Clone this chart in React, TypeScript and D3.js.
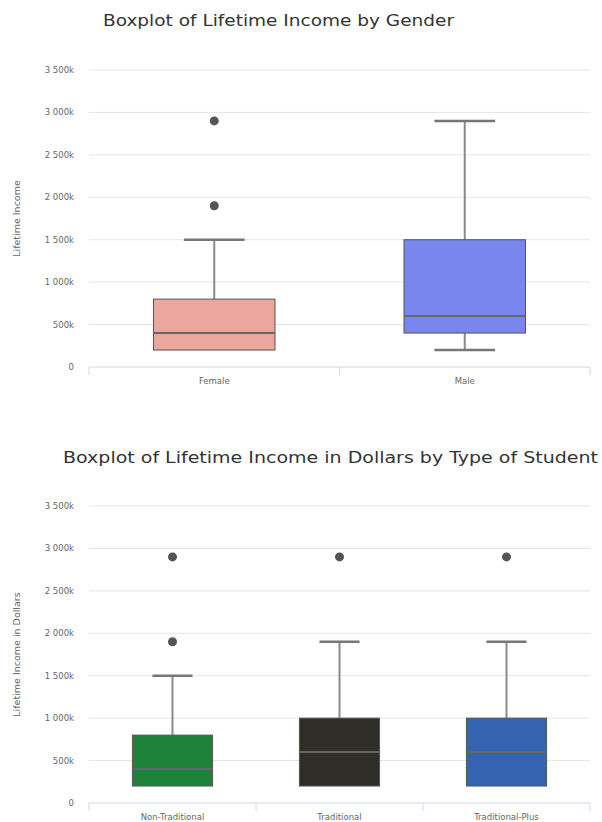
import React from "react";
import * as d3 from "d3";

const genderCats = ["Female", "Male"];
const genderColors = ["#eba79d", "#7886ee"];
const genderLow = [200, 200];
const genderQ1 = [200, 400];
const genderMed = [400, 600];
const genderQ3 = [800, 1500];
const genderHigh = [1500, 2900];
const genderOutliers = [[1900, 2900], []];

const typeCats = ["Non-Traditional", "Traditional", "Traditional-Plus"];
const typeColors = ["#1f823a", "#2e2d27", "#3565b1"];
const typeLow = [200, 200, 200];
const typeQ1 = [200, 200, 200];
const typeMed = [400, 600, 600];
const typeQ3 = [800, 1000, 1000];
const typeHigh = [1500, 1900, 1900];
const typeOutliers = [[1900, 2900], [2900], [2900]];

const yTicks = [0, 500, 1000, 1500, 2000, 2500, 3000, 3500];

const fmt = (v: number) => {
  if (v === 0) return "0";
  const s = String(v);
  return s.length > 3 ? s.slice(0, s.length - 3) + " " + s.slice(-3) + "k" : s + "k";
};

type PanelProps = {
  title: string;
  yLabel: string;
  cats: string[];
  colors: string[];
  low: number[];
  q1: number[];
  med: number[];
  q3: number[];
  high: number[];
  outliers: number[][];
  top: number;
  titleX: number;
  titleY: number;
  titleLen: number;
  boxFrac: number;
};

function Panel(p: PanelProps) {
  const x0 = 89, x1 = 590;
  const yTop = p.top, yBottom = p.top + 297;
  const x = d3.scaleBand<string>().domain(p.cats).range([x0, x1]);
  const y = d3.scaleLinear().domain([0, 3500]).range([yBottom, yTop]);
  const bw = x.bandwidth() * p.boxFrac;
  const font = "DejaVu Sans, sans-serif";
  return (
    <g>
      <text
        x={p.titleX}
        y={p.titleY}
        textAnchor="start"
        fontFamily={font}
        fontSize={16.5}
        fill="#333"
        textLength={p.titleLen}
        lengthAdjust="spacingAndGlyphs"
      >
        {p.title}
      </text>
      {yTicks.map((t) => (
        <g key={t}>
          {t > 0 && <line x1={x0} x2={x1} y1={y(t)} y2={y(t)} stroke="#e6e6e6" strokeWidth={1} />}
          <text x={74} y={y(t) + 3} textAnchor="end" fontFamily={font} fontSize={8.5} fill="#666">
            {fmt(t)}
          </text>
        </g>
      ))}
      <text
        transform={`translate(20,${(yTop + yBottom) / 2}) rotate(-90)`}
        textAnchor="middle"
        fontFamily={font}
        fontSize={9.5}
        fill="#666"
      >
        {p.yLabel}
      </text>
      <line x1={x0} x2={x1} y1={yBottom} y2={yBottom} stroke="#ccd6eb" strokeWidth={1} />
      {[...p.cats.map((c) => x(c) as number), x1].map((tx, i) => (
        <line key={i} x1={tx} x2={tx} y1={yBottom} y2={yBottom + 8} stroke="#ccd6eb" strokeWidth={1} />
      ))}
      {p.cats.map((c, i) => {
        const cx = (x(c) as number) + x.bandwidth() / 2;
        return (
          <g key={c}>
            <text x={cx} y={yBottom + 17} textAnchor="middle" fontFamily={font} fontSize={8.5} fill="#666">
              {c}
            </text>
            <line x1={cx} x2={cx} y1={y(p.high[i])} y2={y(p.q3[i])} stroke="#8a8a8a" strokeWidth={2} />
            <line x1={cx} x2={cx} y1={y(p.q1[i])} y2={y(p.low[i])} stroke="#8a8a8a" strokeWidth={2} />
            <line x1={cx - bw / 4} x2={cx + bw / 4} y1={y(p.high[i])} y2={y(p.high[i])} stroke="#777" strokeWidth={2.5} />
            {p.low[i] < p.q1[i] && (
              <line x1={cx - bw / 4} x2={cx + bw / 4} y1={y(p.low[i])} y2={y(p.low[i])} stroke="#777" strokeWidth={2.5} />
            )}
            <rect
              x={cx - bw / 2}
              y={y(p.q3[i])}
              width={bw}
              height={y(p.q1[i]) - y(p.q3[i])}
              fill={p.colors[i]}
              stroke="#555"
              strokeWidth={1}
            />
            <line x1={cx - bw / 2} x2={cx + bw / 2} y1={y(p.med[i])} y2={y(p.med[i])} stroke="#666" strokeWidth={2} />
            {p.outliers[i].map((o, j) => (
              <circle key={j} cx={cx} cy={y(o)} r={4.5} fill="#555" />
            ))}
          </g>
        );
      })}
    </g>
  );
}

export default function App() {
  return (
    <svg width={602} height={822} style={{ position: "absolute", left: 0, top: 0, background: "#fff" }}>
      <rect width={602} height={822} fill="#fff" />
      <Panel
        title="Boxplot of Lifetime Income by Gender"
        yLabel="Lifetime Income"
        cats={genderCats}
        colors={genderColors}
        low={genderLow}
        q1={genderQ1}
        med={genderMed}
        q3={genderQ3}
        high={genderHigh}
        outliers={genderOutliers}
        top={70}
        titleX={103}
        titleY={26}
        titleLen={351}
        boxFrac={0.485}
      />
      <Panel
        title="Boxplot of Lifetime Income in Dollars by Type of Student"
        yLabel="Lifetime Income in Dollars"
        cats={typeCats}
        colors={typeColors}
        low={typeLow}
        q1={typeQ1}
        med={typeMed}
        q3={typeQ3}
        high={typeHigh}
        outliers={typeOutliers}
        top={506}
        titleX={63}
        titleY={463}
        titleLen={535}
        boxFrac={0.48}
      />
    </svg>
  );
}
